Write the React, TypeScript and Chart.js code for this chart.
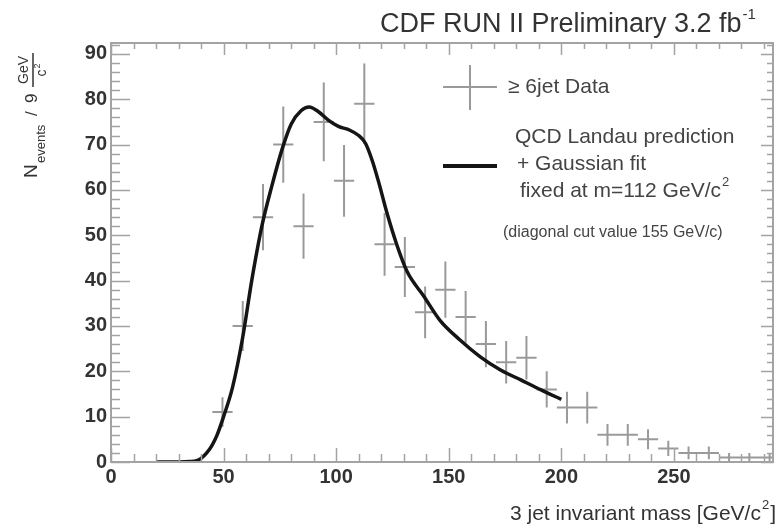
import React, { useEffect, useRef } from 'react';
import { Chart, registerables } from 'chart.js';

Chart.register(...registerables);

// ---- Data ----
const binCenters = [49.5, 58.5, 67.5, 76.5, 85.5, 94.5, 103.5, 112.5, 121.5, 130.5, 139.5, 148.5, 157.5, 166.5, 175.5, 184.5, 193.5, 202.5, 211.5, 220.5, 229.5, 238.5, 247.5, 256.5, 265.5, 274.5, 283.5, 292.5];
const counts = [11, 30, 54, 70, 52, 75, 62, 79, 48, 43, 33, 38, 32, 26, 22, 23, 16, 12, 12, 6, 6, 5, 3, 2, 2, 1, 1, 1];
const errors = [3.3, 5.5, 7.3, 8.4, 7.2, 8.7, 7.9, 8.9, 6.9, 6.6, 5.7, 6.2, 5.7, 5.1, 4.7, 4.8, 4.0, 3.5, 3.5, 2.4, 2.4, 2.2, 1.7, 1.4, 1.4, 1.0, 1.0, 1.0];
const binHalfWidth = 4.5;

const fitMass = [20, 25, 30, 35, 38, 40, 42.5, 45, 47, 50, 54, 58.5, 62.5, 67, 71.5, 76, 80, 84.5, 88, 92, 96.5, 101, 105.5, 110, 113, 116, 119, 122.5, 127, 131.5, 139, 146, 155, 164, 173, 182, 191, 200];
const fitValue = [0, 0, 0, 0.1, 0.3, 0.8, 2, 3.8, 5.8, 10, 16.5, 27.5, 40, 52, 61, 69, 74.5, 77.5, 78.3, 77.3, 75.4, 74, 73.3, 72, 70.3, 66.5, 61.5, 55, 47.8, 42, 36.5, 31.3, 26.9, 23.2, 20.3, 18.1, 15.9, 13.8];

const xTicks = [0, 50, 100, 150, 200, 250];
const yTicks = [0, 10, 20, 30, 40, 50, 60, 70, 80, 90];
const xMinorStep = 10;
const yMinorStep = 2;
const X_MAX = 294;
const Y_MAX = 92.4;

const FONT = '"Liberation Sans", Arial, Helvetica, sans-serif';
const TEXT = '#333333';
const FRAME = '#a3a3a3';
const DATA_GRAY = '#9a9a9a';

const errorBars = {
  id: 'errorBars',
  beforeDatasetsDraw(chart: any) {
    const { ctx, chartArea } = chart;
    const xs = chart.scales.x;
    const ys = chart.scales.y;
    ctx.save();
    ctx.beginPath();
    ctx.rect(chartArea.left, chartArea.top, chartArea.right - chartArea.left, chartArea.bottom - chartArea.top);
    ctx.clip();
    ctx.strokeStyle = DATA_GRAY;
    ctx.lineWidth = 2;
    ctx.beginPath();
    binCenters.forEach((m, i) => {
      const px = xs.getPixelForValue(m);
      const py = ys.getPixelForValue(counts[i]);
      ctx.moveTo(xs.getPixelForValue(m - binHalfWidth), py);
      ctx.lineTo(xs.getPixelForValue(m + binHalfWidth), py);
      ctx.moveTo(px, ys.getPixelForValue(counts[i] - errors[i]));
      ctx.lineTo(px, ys.getPixelForValue(counts[i] + errors[i]));
    });
    ctx.stroke();
    ctx.restore();
  },
};

const frameAndText = {
  id: 'frameAndText',
  afterDraw(chart: any) {
    const { ctx, chartArea } = chart;
    const xs = chart.scales.x;
    const ys = chart.scales.y;
    const { left, right, top, bottom } = chartArea;
    ctx.save();
    ctx.strokeStyle = FRAME;
    ctx.lineWidth = 2;
    ctx.strokeRect(left, top, right - left, bottom - top);
    ctx.lineWidth = 1.5;
    ctx.beginPath();
    // x ticks (bottom and top)
    for (let v = 0; v <= X_MAX + 1e-6; v += xMinorStep) {
      const major = xTicks.includes(v);
      const px = Math.round(xs.getPixelForValue(v)) + 0.5;
      ctx.moveTo(px, bottom);
      ctx.lineTo(px, bottom - (major ? 14 : 8));
      ctx.moveTo(px, top);
      ctx.lineTo(px, top + (major ? 12 : 6));
    }
    // y ticks (left and right)
    for (let v = 0; v <= Y_MAX + 1e-6; v += yMinorStep) {
      const major = yTicks.includes(v);
      const py = Math.round(ys.getPixelForValue(v)) + 0.5;
      ctx.moveTo(left, py);
      ctx.lineTo(left + (major ? 19 : 9), py);
      ctx.moveTo(right, py);
      ctx.lineTo(right - (major ? 12 : 6), py);
    }
    ctx.stroke();

    // Title
    ctx.fillStyle = TEXT;
    ctx.textBaseline = 'alphabetic';
    ctx.textAlign = 'left';
    ctx.font = `27px ${FONT}`;
    const title = 'CDF RUN II Preliminary 3.2 fb';
    ctx.fillText(title, 380, 32);
    const tw = ctx.measureText(title).width;
    ctx.font = `15px ${FONT}`;
    ctx.fillText('-1', 380 + tw + 1, 19);

    // Legend: data cross
    ctx.strokeStyle = DATA_GRAY;
    ctx.lineWidth = 2;
    ctx.beginPath();
    ctx.moveTo(443, 87);
    ctx.lineTo(497, 87);
    ctx.moveTo(470, 65);
    ctx.lineTo(470, 110);
    ctx.stroke();
    ctx.textBaseline = 'middle';
    ctx.font = `21px ${FONT}`;
    ctx.fillStyle = '#444';
    ctx.fillText('\u2265 6jet Data', 508, 87);

    // Legend: fit line
    ctx.strokeStyle = '#151515';
    ctx.lineWidth = 4;
    ctx.beginPath();
    ctx.moveTo(443, 166);
    ctx.lineTo(497, 166);
    ctx.stroke();
    ctx.fillText('QCD Landau prediction', 515, 137);
    ctx.fillText('+ Gaussian fit', 517, 164);
    const fx = 'fixed at m=112 GeV/c';
    ctx.fillText(fx, 520, 191);
    const fw = ctx.measureText(fx).width;
    ctx.font = `13px ${FONT}`;
    ctx.fillText('2', 520 + fw + 1, 182);
    ctx.font = `16px ${FONT}`;
    ctx.fillText('(diagonal cut value 155 GeV/c)', 503, 233);

    // X axis title
    ctx.fillStyle = TEXT;
    ctx.textBaseline = 'alphabetic';
    ctx.font = `21px ${FONT}`;
    const xt = '3 jet invariant mass [GeV/c';
    ctx.fillText(xt, 510, 520);
    const xw = ctx.measureText(xt).width;
    ctx.font = `13px ${FONT}`;
    ctx.fillText('2', 510 + xw + 1, 509);
    const sw = ctx.measureText('2').width;
    ctx.font = `21px ${FONT}`;
    ctx.fillText(']', 510 + xw + sw + 2, 520);

    // Y axis title (rotated)
    ctx.save();
    ctx.translate(0, 180);
    ctx.rotate(-Math.PI / 2);
    ctx.textBaseline = 'alphabetic';
    ctx.textAlign = 'left';
    ctx.font = `19px ${FONT}`;
    ctx.fillText('N', 2, 37);
    ctx.font = `13px ${FONT}`;
    ctx.fillText('events', 17, 45);
    ctx.font = `17px ${FONT}`;
    ctx.fillText('/', 64, 37);
    ctx.fillText('9', 77, 37);
    ctx.strokeStyle = TEXT;
    ctx.lineWidth = 1.5;
    ctx.beginPath();
    ctx.moveTo(93, 33);
    ctx.lineTo(127, 33);
    ctx.stroke();
    ctx.textAlign = 'center';
    ctx.font = `14px ${FONT}`;
    ctx.fillText('GeV', 110, 28);
    ctx.fillText('c', 107, 46);
    ctx.font = `9px ${FONT}`;
    ctx.fillText('2', 114, 40);
    ctx.restore();

    ctx.restore();
  },
};

export default function App() {
  const canvasRef = useRef<HTMLCanvasElement | null>(null);

  useEffect(() => {
    if (!canvasRef.current) return;
    const chart = new Chart(canvasRef.current, {
      type: 'scatter',
      data: {
        datasets: [
          {
            label: 'QCD Landau prediction + Gaussian fit',
            data: fitMass.map((m, i) => ({ x: m, y: fitValue[i] })),
            showLine: true,
            borderColor: '#151515',
            borderWidth: 3.5,
            pointRadius: 0,
            cubicInterpolationMode: 'monotone',
            fill: false,
          } as any,
        ],
      },
      options: {
        animation: false,
        responsive: false,
        devicePixelRatio: 1,
        layout: { padding: { left: 0, right: 7, top: 43, bottom: 0 } },
        plugins: { legend: { display: false }, tooltip: { enabled: false }, title: { display: false } },
        scales: {
          x: {
            type: 'linear',
            min: 0,
            max: X_MAX,
            afterBuildTicks: (s: any) => {
              s.ticks = xTicks.map((v) => ({ value: v }));
            },
            afterFit: (s: any) => {
              s.height = 63;
            },
            ticks: { font: { family: FONT, size: 20, weight: 'bold' }, color: TEXT, padding: 3, maxRotation: 0, autoSkip: false },
            grid: { display: false, drawTicks: false },
            border: { display: false },
          },
          y: {
            type: 'linear',
            min: 0,
            max: Y_MAX,
            afterBuildTicks: (s: any) => {
              s.ticks = yTicks.map((v) => ({ value: v }));
            },
            afterFit: (s: any) => {
              s.width = 111;
            },
            ticks: { font: { family: FONT, size: 20, weight: 'bold' }, color: TEXT, padding: 4, autoSkip: false },
            grid: { display: false, drawTicks: false },
            border: { display: false },
          },
        },
      },
      plugins: [errorBars, frameAndText],
    });
    return () => chart.destroy();
  }, []);

  return (
    <div style={{ position: 'fixed', left: 0, top: 0, width: 780, height: 525, background: '#fff' }}>
      <canvas ref={canvasRef} width={780} height={525} style={{ width: 780, height: 525, display: 'block' }} />
    </div>
  );
}
